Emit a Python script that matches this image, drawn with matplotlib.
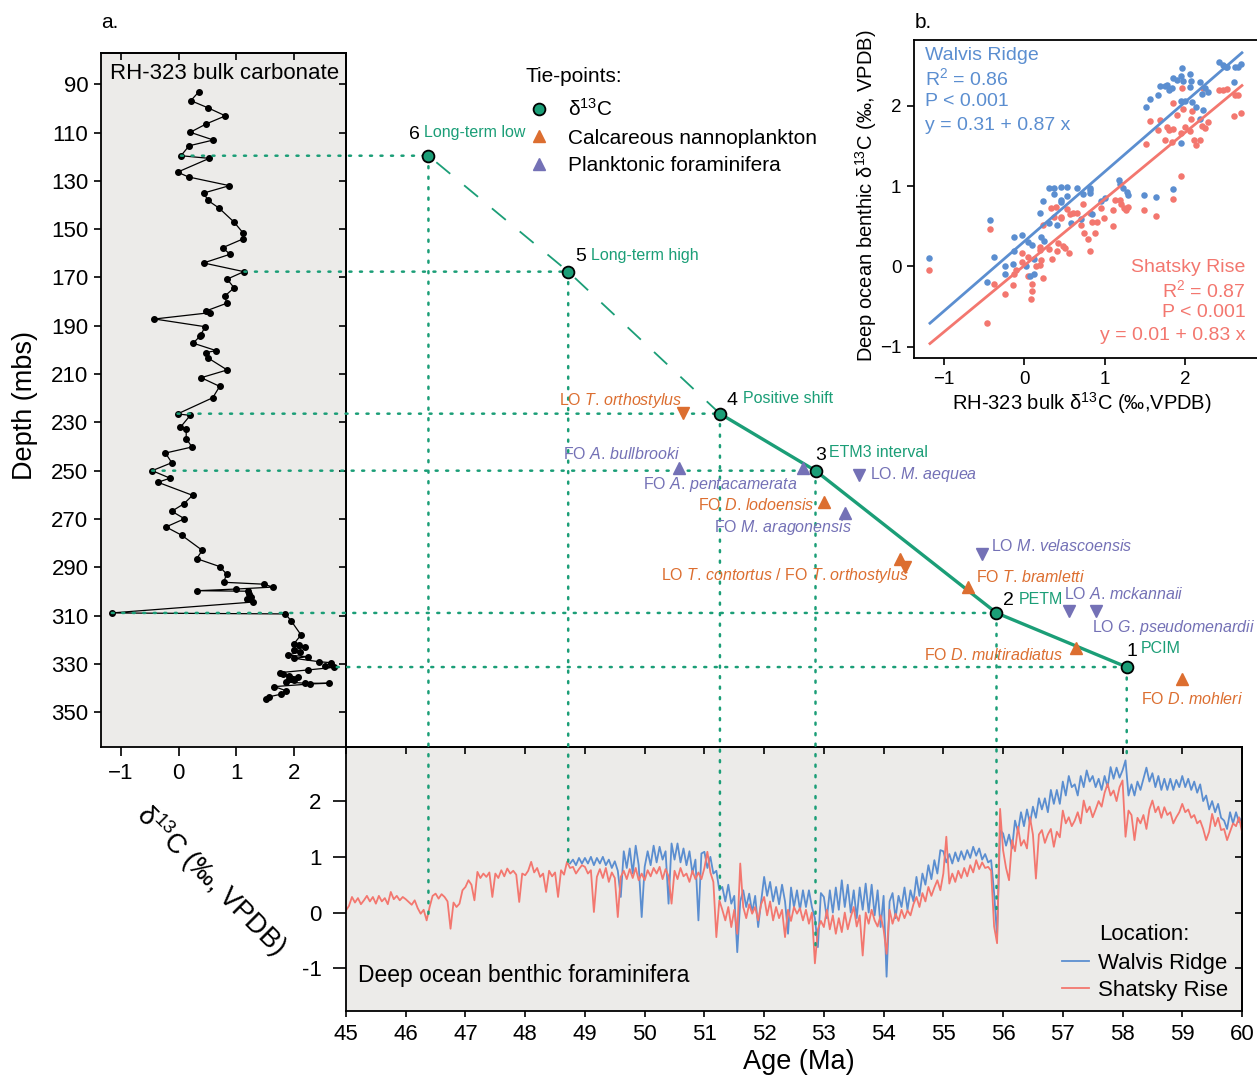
import numpy as np
import matplotlib
matplotlib.use('Agg')
import matplotlib.pyplot as plt
from matplotlib.lines import Line2D
from matplotlib.patches import ConnectionPatch

plt.rcParams['font.family'] = ['Liberation Sans', 'DejaVu Sans']
plt.rcParams['mathtext.fontset'] = 'custom'
plt.rcParams['mathtext.rm'] = 'Liberation Sans'
plt.rcParams['mathtext.it'] = 'Liberation Sans:italic'
plt.rcParams['mathtext.bf'] = 'Liberation Sans:bold'

# ---------------- data ----------------
# RH-323 bulk carbonate record
rh_depth = [93.1, 96.8, 99.8, 103.1, 106.4, 109.9, 113.1, 115.5, 119.6, 120.7,
            126.4, 128.4, 132.0, 135.0, 138.0, 141.3, 147.1, 151.4, 154.1, 157.7,
            160.4, 164.0, 167.6, 170.7, 174.3, 177.7, 180.7, 183.9, 184.6, 187.2,
            190.4, 193.8, 194.3, 197.2, 200.3, 201.1, 203.2, 208.3, 211.5, 215.1,
            219.8, 226.5, 227.1, 232.0, 232.6, 236.7, 240.2, 242.7, 246.7, 250.0,
            253.1, 254.8, 260.2, 263.7, 266.8, 269.9, 273.3, 276.7, 283.0, 286.4,
            289.7, 292.8, 296.2, 297.0, 298.2, 299.0, 299.7, 299.9, 301.1, 302.3,
            303.1, 304.4, 308.9, 309.3, 312.2, 318.0, 321.9, 322.2, 323.1, 324.2,
            325.0, 326.4, 327.0, 327.7, 329.1, 329.5, 330.9, 331.4, 332.5, 333.6,
            334.3, 335.0, 335.5, 336.1, 336.6, 337.5, 338.0, 338.0, 338.3, 339.4,
            341.1, 342.5, 343.6, 344.7]
rh_d13c = [0.35, 0.21, 0.51, 0.81, 0.48, 0.20, 0.60, 0.18, 0.04, 0.53,
           -0.02, 0.17, 0.88, 0.44, 0.50, 0.70, 0.96, 1.11, 1.11, 0.76,
           0.89, 0.43, 1.13, 0.84, 0.96, 0.80, 0.83, 0.47, 0.54, -0.42,
           0.46, 0.38, 0.37, 0.25, 0.65, 0.47, 0.50, 0.84, 0.39, 0.71,
           0.59, -0.02, 0.20, 0.03, 0.13, 0.13, 0.23, -0.23, -0.12, -0.46,
           -0.15, -0.36, 0.24, 0.09, -0.12, 0.10, -0.22, 0.05, 0.41, 0.31,
           0.71, 0.83, 0.78, 1.48, 1.63, 1.00, 0.32, 1.20, 1.21, 1.26,
           1.18, 1.28, -1.16, 1.85, 1.95, 2.12, 1.99, 2.08, 2.19, 1.99,
           2.10, 1.89, 2.24, 2.00, 2.44, 2.64, 2.54, 2.70, 2.24, 1.76,
           1.81, 1.92, 2.06, 1.91, 2.00, 1.86, 2.19, 2.61, 2.28, 1.66,
           1.86, 1.78, 1.57, 1.51]

# d13C tie-points 1..6
tie_num = ['1', '2', '3', '4', '5', '6']
tie_name = ['PCIM', 'PETM', 'ETM3 interval', 'Positive shift', 'Long-term high', 'Long-term low']
tie_age = [58.07, 55.89, 52.86, 51.26, 48.72, 46.38]
tie_depth = [331.3, 308.9, 250.0, 226.4, 167.6, 119.6]
tie_bulk = [2.74, -1.16, -0.46, -0.02, 1.14, 0.04]
tie_benthic = [2.75, 0.0, -0.62, 0.10, 0.88, -0.08]

# biostratigraphic events
nanno_event = ['LO', 'FO', 'FO', 'LO', 'FO', 'FO', 'FO']
nanno_taxon = ['T. orthostylus', 'D. lodoensis', 'T. orthostylus', 'T. contortus',
               'T. bramletti', 'D. multiradiatus', 'D. mohleri']
nanno_age = [50.65, 53.01, 54.28, 54.36, 55.42, 57.22, 58.99]
nanno_depth = [226.2, 263.1, 286.7, 289.7, 298.3, 323.3, 336.4]

foram_event = ['FO', 'FO', 'LO.', 'FO', 'LO', 'LO', 'LO']
foram_taxon = ['A. bullbrooki', 'A. pentacamerata', 'M. aequea', 'M. aragonensis',
               'M. velascoensis', 'A. mckannaii', 'G. pseudomenardii']
foram_age = [50.58, 52.65, 53.59, 53.36, 55.65, 57.11, 57.56]
foram_depth = [248.8, 248.8, 251.8, 267.6, 284.6, 308.1, 308.1]

# deep ocean benthic records, 0.05 Myr steps
sr_age = np.round(np.arange(45.0, 60.0001, 0.05), 2)
sr_d13c = [
    0.04, 0.12, 0.28, 0.18, 0.26, 0.15, 0.22, 0.30, 0.20, 0.28, 0.16, 0.30, 0.20, 0.26, 0.15, 0.37, 0.24, 0.30, 0.22, 0.28,
    0.24, 0.19, 0.14, 0.22, 0.08, -0.02, 0.05, -0.14, 0.10, 0.30, 0.34, 0.25, 0.33, 0.28, 0.20, -0.29, 0.18, 0.10, 0.16, 0.40,
    0.46, 0.58, 0.50, 0.22, 0.73, 0.62, 0.70, 0.64, 0.72, 0.28, 0.70, 0.62, 0.76, 0.65, 0.79, 0.70, 0.75, 0.68, 0.19, 0.70,
    0.67, 0.75, 0.91, 0.72, 0.80, 0.64, 0.70, 0.37, 0.75, 0.65, 0.72, 0.28, 0.76, 0.68, 0.91, 0.80, 0.82, 0.70, 0.78, 0.85,
    0.82, 0.70, 0.76, 0.01, 0.64, 0.78, 0.62, 0.80, 0.55, 0.72, 0.62, -0.08, 0.64, 0.75, 0.60, 0.78, 0.62, 0.80, 0.58, 0.70,
    0.58, 0.76, 0.65, 0.80, 0.70, 0.82, 0.60, 0.78, 0.65, 0.16, 0.75, 0.60, 0.80, 0.65, 0.70, 0.55, 0.75, 0.60, 0.72, 0.60,
    0.80, 1.09, 0.72, 0.55, -0.44, 0.22, 0.05, -0.14, 0.10, -0.26, 0.05, -0.38, 0.88, 0.10, -0.10, 0.15, -0.02, 0.10, -0.14, 0.15,
    0.28, -0.05, 0.20, -0.14, 0.10, -0.10, 0.05, -0.44, 0.05, -0.15, 0.10, -0.02, 0.08, -0.14, 0.05, -0.20, 0.00, -0.91, -0.30, -0.15,
    -0.26, 0.05, -0.30, -0.05, -0.38, -0.10, -0.35, 0.00, -0.30, -0.08, 0.10, -0.25, -0.05, -0.77, 0.00, -0.20, 0.05, -0.14, -0.25, -0.05,
    -0.30, -0.74, 0.05, -0.20, -0.02, -0.15, 0.05, -0.10, 0.04, -0.05, 0.15, 0.28, 0.10, 0.35, 0.20, 0.46, 0.30, 0.45, 0.58, 0.40,
    0.70, 1.36, 0.52, 0.70, 0.55, 0.75, 0.62, 0.80, 0.65, 0.85, 0.72, 0.94, 0.78, 0.90, 0.80, 0.82, 0.75, -0.25, -0.55, 1.86,
    1.12, 0.80, 0.58, 1.30, 1.10, 1.54, 1.20, 1.30, 1.15, 1.71, 1.40, 0.61, 1.40, 1.48, 1.25, 1.40, 1.50, 1.18, 1.45, 1.35,
    1.83, 1.60, 1.71, 1.55, 1.65, 1.80, 1.60, 2.01, 1.80, 1.90, 1.71, 1.85, 2.00, 1.90, 2.15, 2.31, 2.10, 2.19, 2.00, 2.25,
    2.37, 1.36, 1.83, 1.75, 1.30, 1.70, 1.60, 1.75, 1.50, 1.85, 2.01, 1.80, 1.90, 1.70, 1.89, 1.75, 1.80, 1.60, 1.71, 1.80,
    1.95, 1.80, 1.85, 1.70, 1.75, 1.60, 1.65, 1.50, 1.30, 1.45, 1.77, 1.55, 1.70, 1.48, 1.50, 1.30, 1.45, 1.60, 1.55, 1.71,
    1.45]

wr_age = np.round(np.arange(48.75, 60.0001, 0.05), 2)
wr_d13c = [
    0.88, 0.95, 0.85, 0.98, 0.88,
    0.98, 0.88, 1.00, 0.85, 0.98, 0.88, 1.00, 0.85, 0.95, 0.80, 0.92, 0.75, 0.28, 1.10, 0.80, 1.15, 0.70, 1.20, 0.85, -0.08,
    0.82, 1.10, 0.85, 1.20, 0.90, 1.18, 0.95, 1.10, 0.16, 1.24, 0.95, 1.24, 0.90, 1.15, 0.85, 1.10, 0.70, 0.95, -0.14, 1.06,
    1.09, 0.80, 1.00, 0.70, 0.75, 0.40, 0.46, 0.20, 0.50, 0.16, 0.30, -0.71, 0.20, 0.40, 0.10, 0.34, 0.00, 0.30, -0.26, 0.20,
    0.64, 0.30, 0.55, 0.20, 0.46, 0.15, 0.50, 0.20, -0.38, 0.45, 0.10, 0.40, 0.05, 0.40, 0.10, 0.40, 0.10, -0.10, -0.62, 0.35,
    0.28, -0.10, 0.40, 0.00, 0.45, 0.05, 0.58, 0.10, 0.50, 0.00, 0.40, -0.10, 0.45, 0.05, 0.52, 0.00, 0.50, -0.05, 0.40, -0.26,
    0.30, -1.15, 0.20, 0.35, -0.10, 0.30, 0.10, 0.45, 0.05, 0.40, 0.20, 0.64, 0.30, 0.70, 0.50, 0.85, 0.60, 0.94, 0.70, 1.12,
    1.10, 0.90, 1.05, 0.88, 1.08, 0.92, 1.10, 0.95, 1.12, 0.98, 1.18, 1.02, 1.15, 0.95, 1.05, 0.90, 0.94, 0.35, -0.43, 1.48,
    1.42, 1.20, 1.40, 1.15, 1.65, 1.45, 1.80, 1.55, 1.85, 1.60, 1.90, 1.70, 2.05, 1.85, 2.05, 1.80, 2.20, 1.95, 2.20, 1.95,
    2.35, 2.10, 2.45, 2.25, 2.30, 2.10, 2.45, 2.25, 2.55, 2.35, 2.45, 2.25, 2.40, 2.20, 2.45, 2.25, 2.61, 2.40, 2.60, 2.42,
    2.55, 2.73, 2.10, 2.30, 2.10, 2.35, 2.20, 2.40, 2.60, 2.35, 2.50, 2.25, 2.45, 2.20, 2.40, 2.20, 2.40, 2.20, 2.38, 2.25,
    2.45, 2.25, 2.40, 2.20, 2.35, 2.15, 2.30, 2.00, 2.10, 1.85, 2.00, 1.80, 1.95, 1.70, 1.65, 1.50, 1.80, 1.60, 1.80, 1.62,
    1.71]

# panel b: bulk vs benthic
wr_x = [-1.18, -0.43, -0.37, -0.46, -0.24, -0.24, -0.13, -0.13, -0.14, -0.03,
        0.02, 0.04, 0.10, 0.07, 0.12, 0.12, 0.19, 0.23, 0.21, 0.24,
        0.31, 0.31, 0.37, 0.37, 0.40, 0.45, 0.45, 0.45, 0.53, 0.53,
        0.58, 0.65, 0.70, 0.73, 0.81, 0.82, 0.82, 0.84, 0.95, 1.00,
        1.17, 1.19, 1.22, 1.27, 1.29, 1.48, 1.63, 1.85, 1.94, 1.51,
        1.56, 1.66, 1.68, 1.75, 1.77, 1.80, 1.83, 1.85, 1.89, 1.96,
        1.95, 1.97, 1.95, 1.99, 2.06, 2.07, 2.06, 2.08, 2.13, 2.18,
        2.20, 2.18, 2.22, 2.24, 2.28, 2.42, 2.46, 2.50, 2.52, 2.60,
        2.62, 2.65, 2.69]
wr_y = [0.11, 0.58, 0.12, -0.19, 0.00, -0.10, 0.37, 0.19, 0.03, 0.39,
        0.00, 0.30, 0.26, -0.12, -0.10, 0.09, 0.67, 0.81, 0.37, 0.32,
        0.54, 0.97, 0.97, 0.90, 0.51, 0.99, 0.83, 0.80, 0.99, 0.87,
        0.54, 0.97, 0.59, 0.90, 0.91, 0.97, 0.95, 0.65, 0.81, 0.85,
        1.07, 1.03, 0.98, 0.93, 0.89, 0.89, 0.86, 0.96, 1.53, 1.99,
        2.08, 2.13, 2.25, 2.24, 2.26, 2.19, 2.22, 2.35, 2.32, 2.47,
        2.37, 2.31, 2.06, 2.06, 2.40, 2.31, 2.23, 2.05, 1.98, 2.30,
        2.14, 1.83, 1.95, 2.22, 2.17, 2.54, 2.51, 2.48, 2.48, 2.30,
        2.48, 2.48, 2.52]
sr_x = [-1.18, -0.43, -0.46, -0.37, -0.24, -0.14, -0.13, -0.10, -0.03, -0.03,
        0.04, 0.04, 0.09, 0.08, 0.10, 0.15, 0.19, 0.19, 0.20, 0.23,
        0.23, 0.21, 0.31, 0.33, 0.35, 0.39, 0.40, 0.42, 0.37, 0.45,
        0.45, 0.48, 0.50, 0.53, 0.55, 0.57, 0.61, 0.65, 0.70, 0.73,
        0.74, 0.79, 0.82, 0.82, 0.84, 0.90, 0.88, 0.95, 0.99, 1.10,
        1.10, 1.13, 1.19, 1.20, 1.24, 1.26, 1.29, 1.48, 1.63, 1.85,
        1.94, 1.51, 1.56, 1.66, 1.68, 1.75, 1.77, 1.80, 1.83, 1.85,
        1.89, 1.96, 1.95, 1.97, 1.99, 2.05, 2.07, 2.08, 2.10, 2.13,
        2.18, 2.20, 2.22, 2.24, 2.28, 2.42, 2.46, 2.52, 2.60, 2.62,
        2.65, 2.69, 1.84]
sr_y = [-0.04, 0.46, -0.71, -0.22, -0.35, -0.23, -0.10, -0.04, 0.17, 0.05,
        0.12, -0.12, -0.31, -0.41, -0.22, 0.00, 0.02, 0.24, 0.20, 0.51,
        -0.14, 0.08, 0.21, 0.73, 0.09, 0.74, 0.19, 0.29, 0.62, 0.62,
        0.60, 0.25, 0.23, 0.72, 0.16, 0.65, 0.66, 0.67, 0.51, 0.78,
        0.41, 0.34, 0.19, 0.66, 0.55, 0.55, 0.42, 0.73, 0.60, 0.50,
        0.70, 0.83, 0.82, 0.78, 0.73, 0.70, 0.74, 0.70, 0.63, 0.84,
        1.13, 1.52, 1.81, 1.70, 1.82, 1.57, 1.73, 1.70, 1.55, 1.71,
        1.88, 2.22, 1.66, 1.96, 1.73, 1.68, 1.84, 1.94, 1.57, 1.51,
        1.57, 1.75, 2.22, 1.72, 1.80, 2.20, 2.20, 2.21, 1.87, 2.13,
        2.13, 1.91, 2.03]
wr_fit = (0.31, 0.87)
sr_fit = (0.01, 0.83)
fit_xrange = [-1.17, 2.70]

# ---------------- style ----------------
GRAY = '#ECEBE9'
GREEN = '#1B9E77'
ORANGE = '#DC6E30'
PURPLE = '#7471B6'
BLUE = '#5B8ED0'
RED = '#F3776F'

W, H = 1257, 1077
fig = plt.figure(figsize=(W / 100, H / 100), dpi=100)


def fx(px):
    return px / W


def fy(py):
    return 1 - py / H


def inner_ticks(ax, xt, yt, length=5):
    sx = ax.secondary_xaxis('top')
    sx.set_xticks(xt)
    sx.tick_params(direction='in', length=length, width=1.2, labeltop=False)
    sy = ax.secondary_yaxis('right')
    sy.set_yticks(yt)
    sy.tick_params(direction='in', length=length, width=1.2, labelright=False)
    for s in list(sx.spines.values()) + list(sy.spines.values()):
        s.set_linewidth(1.3)


ax_left = fig.add_axes([fx(101), fy(747), 245 / W, (747 - 53.3) / H])
ax_main = fig.add_axes([fx(346), fy(747), 896 / W, (747 - 53.3) / H], zorder=5)
ax_bot = fig.add_axes([fx(346), fy(1010.7), 896 / W, (1010.7 - 747) / H])
ax_in = fig.add_axes([fx(914), fy(358.3), (1257 - 914) / W, (358.3 - 40) / H])

# ---------------- panel a: bulk carbonate ----------------
ax_left.set_facecolor(GRAY)
ax_left.plot(rh_d13c, rh_depth, color='black', lw=0.9, marker='o', ms=4)
ax_left.set_xlim(-1.347, 2.90)
ax_left.set_ylim(364.4, 77.2)
yt = list(range(90, 351, 20))
ax_left.set_yticks(yt)
ax_left.set_xticks([-1, 0, 1, 2])
ax_left.tick_params(axis='y', direction='out', length=5, width=1.2, labelsize=16, pad=4)
ax_left.tick_params(axis='x', direction='out', length=6.5, width=1.2, labelsize=16, pad=5)
for s in ax_left.spines.values():
    s.set_linewidth(1.3)
inner_ticks(ax_left, [-1, 0, 1, 2], yt)
ax_left.text(0.504, 0.9716, 'RH-323 bulk carbonate', transform=ax_left.transAxes,
             ha='center', va='center', fontsize=16)

# ---------------- bottom panel: benthic records ----------------
ax_bot.set_facecolor(GRAY)
ax_bot.plot(wr_age, wr_d13c, color=BLUE, lw=1.3, label='Walvis Ridge')
ax_bot.plot(sr_age, sr_d13c, color=RED, lw=1.3, label='Shatsky Rise')
ax_bot.set_xlim(45, 60)
ax_bot.set_ylim(-1.76, 2.97)
ax_bot.set_xticks(range(45, 61))
ax_bot.set_yticks([-1, 0, 1, 2])
ax_bot.set_yticklabels(['-1', '0', '1', '2'])
ax_bot.tick_params(axis='x', direction='out', length=4.5, width=1.2, labelsize=16, pad=5)
ax_bot.tick_params(axis='y', direction='out', length=9.5, width=1.2, labelsize=16, pad=8)
for s in ax_bot.spines.values():
    s.set_linewidth(1.3)
inner_ticks(ax_bot, list(range(45, 61)), [-1, 0, 1, 2])
ax_bot.text(0.0134, 0.1316, 'Deep ocean benthic foraminifera', transform=ax_bot.transAxes,
            ha='left', va='center', fontsize=16.5)
ax_bot.legend(loc='upper left', bbox_to_anchor=(fx(1062), fy(953)), bbox_transform=fig.transFigure,
              frameon=False, fontsize=16, handlelength=1.2, handletextpad=0.4,
              borderpad=0, borderaxespad=0, labelspacing=0.28)
fig.text(fx(1099), fy(935), 'Location:', ha='left', va='center', fontsize=16)

# ---------------- tie-points ----------------
ax_main.set_xlim(45, 60)
ax_main.set_ylim(364.4, 77.2)
ax_main.set_facecolor('none')
ax_main.axis('off')

dot = (0, (0.8, 3.4))
for age, dep, bulk, ben in zip(tie_age, tie_depth, tie_bulk, tie_benthic):
    fig.add_artist(ConnectionPatch(xyA=(bulk, dep), coordsA=ax_left.transData,
                                   xyB=(age, dep), coordsB=ax_main.transData,
                                   color=GREEN, lw=1.8, ls=dot))
    fig.add_artist(ConnectionPatch(xyA=(age, dep), coordsA=ax_main.transData,
                                   xyB=(age, ben), coordsB=ax_bot.transData,
                                   color=GREEN, lw=1.8, ls=dot))

ax_main.plot(tie_age[3:], tie_depth[3:], color=GREEN, lw=1.3, ls=(0, (10, 10)))
ax_main.plot(tie_age[:4], tie_depth[:4], color=GREEN, lw=2.4)
ax_main.plot(tie_age, tie_depth, ls='none', marker='o', ms=8.5, mfc=GREEN, mec='black', mew=1.3)

num_off = [(5, 16), (12, 12), (5, 15), (12, 13), (12, 15), (-14, 21)]
name_off = [(14, 19), (22, 13), (13, 18), (23, 15), (23, 16), (-4, 23)]
for i in range(len(tie_num)):
    ax_main.annotate(tie_num[i], (tie_age[i], tie_depth[i]), xytext=num_off[i],
                     textcoords='offset pixels', ha='center', va='center', fontsize=14)
    ax_main.annotate(tie_name[i], (tie_age[i], tie_depth[i]), xytext=name_off[i],
                     textcoords='offset pixels', ha='left', va='center', fontsize=11.5, color=GREEN)


def italic_word(w):
    # keep the trailing dot outside mathtext: mathtext pads punctuation
    if w.endswith('.'):
        return '$\\mathit{' + w[:-1] + '}$.'
    return '$\\mathit{' + w + '}$'


def italic_label(event, taxon):
    return event + ' ' + ' '.join(italic_word(w) for w in taxon.split())


nanno_off = [(-1, 13, 'right'), (-10, -3, 'right'), (9, -16, 'right'), None,
             (8, 10, 'left'), (-12, -7, 'right'), (-41, -20, 'left')]
for i in range(len(nanno_age)):
    mk = '^' if nanno_event[i] == 'FO' else 'v'
    ax_main.plot(nanno_age[i], nanno_depth[i], marker=mk, ms=8, color=ORANGE, ls='none')
    if nanno_off[i] is None:
        continue
    if i == 2:
        txt = italic_label(nanno_event[3], nanno_taxon[3]) + ' / ' + italic_label(nanno_event[2], nanno_taxon[2])
    else:
        txt = italic_label(nanno_event[i], nanno_taxon[i])
    dx, dy, ha = nanno_off[i]
    ax_main.annotate(txt, (nanno_age[i], nanno_depth[i]), xytext=(dx, dy), textcoords='offset pixels',
                     ha=ha, va='center', fontsize=11.5, color=ORANGE)

foram_off = [(1, 14, 'right'), (-6, -17, 'right'), (11, 1, 'left'), (6, -14, 'right'),
             (9, 8, 'left'), (-5, 17, 'left'), (-4, -16, 'left')]
for i in range(len(foram_age)):
    mk = '^' if foram_event[i] == 'FO' else 'v'
    ax_main.plot(foram_age[i], foram_depth[i], marker=mk, ms=8, color=PURPLE, ls='none')
    dx, dy, ha = foram_off[i]
    ax_main.annotate(italic_label(foram_event[i], foram_taxon[i]), (foram_age[i], foram_depth[i]),
                     xytext=(dx, dy), textcoords='offset pixels',
                     ha=ha, va='center', fontsize=11.5, color=PURPLE)

handles = [Line2D([], [], ls='none', marker='o', ms=8.5, mfc=GREEN, mec='black', mew=1.3),
           Line2D([], [], ls='none', marker='^', ms=8, color=ORANGE),
           Line2D([], [], ls='none', marker='^', ms=8, color=PURPLE)]
ax_main.legend(handles, ['δ$^{13}$C', 'Calcareous nannoplankton', 'Planktonic foraminifera'],
               loc='upper left', bbox_to_anchor=(fx(526), fy(98)), bbox_transform=fig.transFigure,
               frameon=False, fontsize=15,
               handlelength=1.2, handletextpad=0.8, borderpad=0, borderaxespad=0, labelspacing=0.42)
fig.text(fx(526), fy(77), 'Tie-points:', ha='left', va='center', fontsize=15)

# ---------------- panel b ----------------
ax_in.scatter(sr_x, sr_y, s=22, color=RED, lw=0)
ax_in.scatter(wr_x, wr_y, s=22, color=BLUE, lw=0)
fx_arr = np.array(fit_xrange)
ax_in.plot(fx_arr, wr_fit[0] + wr_fit[1] * fx_arr, color=BLUE, lw=2)
ax_in.plot(fx_arr, sr_fit[0] + sr_fit[1] * fx_arr, color=RED, lw=2)
ax_in.set_xlim(-1.368, 2.887)
ax_in.set_ylim(-1.145, 2.818)
ax_in.set_xticks([-1, 0, 1, 2])
ax_in.set_yticks([-1, 0, 1, 2])
ax_in.tick_params(direction='out', length=5, width=1.2, labelsize=13.5, pad=4)
ax_in.spines['right'].set_visible(False)
for s in ax_in.spines.values():
    s.set_linewidth(1.3)
for txt, yy in zip(['Walvis Ridge', 'R$^2$ = 0.86', 'P < 0.001', 'y = 0.31 + 0.87 x'],
                   [0.951, 0.879, 0.808, 0.731]):
    ax_in.text(0.032, yy, txt, transform=ax_in.transAxes, ha='left', va='center',
               fontsize=14, color=BLUE)
for txt, yy in zip(['Shatsky Rise', 'R$^2$ = 0.87', 'P < 0.001', 'y = 0.01 + 0.83 x'],
                   [0.285, 0.215, 0.143, 0.073]):
    ax_in.text(0.967, yy, txt, transform=ax_in.transAxes, ha='right', va='center',
               fontsize=14, color=RED)

# ---------------- labels ----------------
fig.text(fx(25), fy(405), 'Depth (mbs)', rotation=90, ha='center', va='center', fontsize=19.5)
fig.text(fx(799), fy(1062), 'Age (Ma)', ha='center', va='center', fontsize=19.5)
fig.text(fx(211), fy(880), 'δ$^{13}$C (‰, VPDB)', rotation=-45, rotation_mode='anchor',
         ha='center', va='center', fontsize=19.5)
fig.text(fx(1082), fy(403), 'RH-323 bulk δ$^{13}$C (‰,VPDB)', ha='center', va='center', fontsize=14.5)
fig.text(fx(866), fy(196), 'Deep ocean benthic δ$^{13}$C (‰, VPDB)', rotation=90,
         ha='center', va='center', fontsize=14.5)
fig.text(fx(101), fy(22), 'a.', ha='left', va='center', fontsize=15)
fig.text(fx(915), fy(22), 'b.', ha='left', va='center', fontsize=15)

fig.savefig('out.png', dpi=100)
